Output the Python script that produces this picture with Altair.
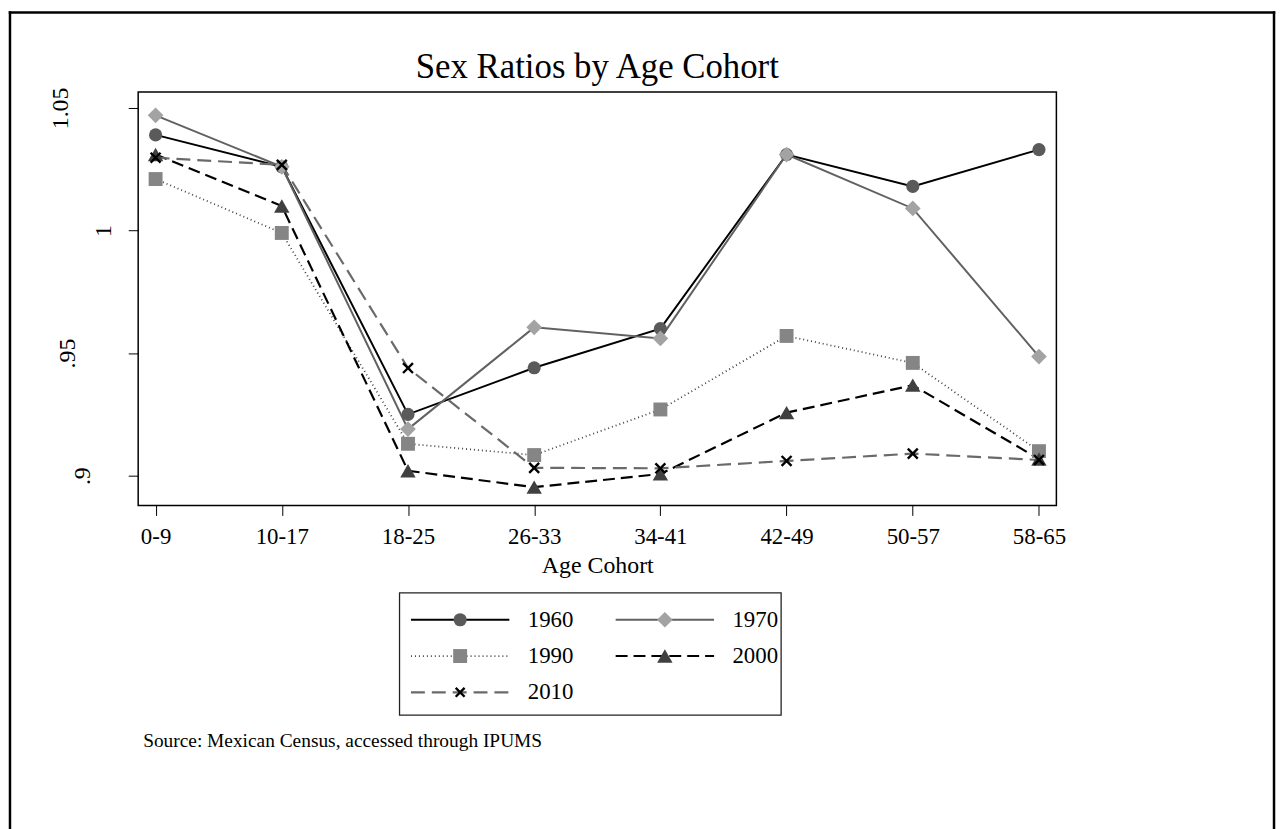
import altair as alt
import pandas as pd

# ---------------- data ----------------
cohorts = ["0-9", "10-17", "18-25", "26-33", "34-41", "42-49", "50-57", "58-65"]
years = ["1960", "1970", "1990", "2000", "2010"]
r1960 = [1.039, 1.026, 0.925, 0.944, 0.960, 1.031, 1.018, 1.033]
r1970 = [1.047, 1.026, 0.919, 0.9605, 0.956, 1.031, 1.009, 0.9486]
r1990 = [1.021, 0.999, 0.913, 0.9084, 0.927, 0.957, 0.946, 0.910]
r2000 = [1.031, 1.010, 0.902, 0.8953, 0.9007, 0.9257, 0.9369, 0.9068]
r2010 = [1.0297, 1.0268, 0.9439, 0.9032, 0.9030, 0.9060, 0.9090, 0.9064]
series = [r1960, r1970, r1990, r2000, r2010]

y_ticks = [0.9, 0.95, 1.0, 1.05]
y_tick_labels = [".9", ".95", "1", "1.05"]
legend_cols = [0, 1, 0, 1, 0]
legend_rows = [0, 0, 1, 1, 2]

title_text = "Sex Ratios by Age Cohort"
x_title = "Age Cohort"
source_text = "Source: Mexican Census, accessed through IPUMS"

rows = []
for yr, vals in zip(years, series):
    for c, v in zip(cohorts, vals):
        rows.append({"cohort": c, "year": yr, "ratio": v})
df = pd.DataFrame(rows)
leg_df = pd.DataFrame({"year": years, "col": legend_cols, "row": legend_rows})

# ---------------- styles ----------------
FONT = "Liberation Serif"
X_PATH = "M-1,-1L1,1M-1,1L1,-1"
styles = {
    "1960": dict(line="#000000", width=2.0, dash=None, shape="circle", fill="#5a5a5a", size=175),
    "1970": dict(line="#616161", width=2.0, dash=None, shape="diamond", fill="#a3a3a3", size=250),
    "1990": dict(line="#444444", width=1.8, dash=[1, 3], shape="square", fill="#858585", size=196),
    "2000": dict(line="#000000", width=2.2, dash=[12, 6], shape="triangle-up", fill="#404040", size=240),
    "2010": dict(line="#6a6a6a", width=2.2, dash=[14, 7], shape=X_PATH, fill=None, size=100),
}

# ---------------- main plot ----------------
label_expr = ""
for v, l in zip(y_ticks, y_tick_labels):
    label_expr += f"abs(datum.value - {v}) < 1e-6 ? '{l}' : "
label_expr += "''"

pad_values = {0.9: 39, 0.95: 54, 1.0: 18, 1.05: 61}
pad_cond = [{"test": f"abs(datum.value - {v}) < 1e-6", "value": p} for v, p in pad_values.items()]

x_enc = alt.X(
    "cohort:N", sort=cohorts,
    scale=alt.Scale(type="point", padding=0.138),
    axis=alt.Axis(title=x_title, labelAngle=0, labelFont=FONT, labelFontSize=23,
                  labelColor="black", labelPadding=10, tickSize=10, tickColor="black",
                  domain=False, grid=False, titleFont=FONT, titleFontSize=24,
                  titleFontWeight="normal", titleColor="black", titlePadding=5),
)
y_enc = alt.Y(
    "ratio:Q",
    scale=alt.Scale(domain=[0.88784, 1.05647], nice=False, zero=False),
    axis=alt.Axis(values=y_ticks, labelExpr=label_expr, labelAngle=-90,
                  labelAlign="center", labelBaseline="alphabetic",
                  labelFont=FONT, labelFontSize=24, labelColor="black",
                  labelPadding={"condition": pad_cond, "value": 40},
                  tickSize=10, tickColor="black", domain=False, grid=False, title=None),
)

base = alt.Chart(df)
line_layers = []
point_layers = []
for yr in years:
    s = styles[yr]
    lkw = dict(color=s["line"], strokeWidth=s["width"])
    if s["dash"]:
        lkw["strokeDash"] = s["dash"]
    line_layers.append(
        base.transform_filter(alt.datum.year == yr).mark_line(**lkw).encode(x=x_enc, y=y_enc)
    )
    if s["fill"]:
        pkw = dict(filled=True, fill=s["fill"], opacity=1, shape=s["shape"], size=s["size"], strokeWidth=0)
    else:
        pkw = dict(filled=False, stroke="black", opacity=1, shape=s["shape"], size=s["size"], strokeWidth=2.4)
    point_layers.append(
        base.transform_filter(alt.datum.year == yr).mark_point(**pkw).encode(x=x_enc, y=y_enc)
    )
main = alt.layer(*line_layers, *point_layers)

# ---------------- legend ----------------
lx = alt.X("col:Q", scale=alt.Scale(domain=[0, 1], range=[324, 530]), axis=None)
ly = alt.Y("row:Q", scale=alt.Scale(domain=[0, 2], range=[531, 604]), axis=None)
lbase = alt.Chart(leg_df)
leg_layers = []
for yr in years:
    s = styles[yr]
    lkw = dict(filled=False, shape="M-1,0H1", size=99 * 99, stroke=s["line"],
               strokeWidth=s["width"], opacity=1)
    if s["dash"]:
        lkw["strokeDash"] = s["dash"]
    leg_layers.append(lbase.transform_filter(alt.datum.year == yr).mark_point(**lkw).encode(x=lx, y=ly))
for yr in years:
    s = styles[yr]
    if s["fill"]:
        pkw = dict(filled=True, fill=s["fill"], opacity=1, shape=s["shape"], size=s["size"], strokeWidth=0)
    else:
        pkw = dict(filled=False, stroke="black", opacity=1, shape=s["shape"], size=s["size"] * 0.8, strokeWidth=2.4)
    leg_layers.append(lbase.transform_filter(alt.datum.year == yr).mark_point(**pkw).encode(x=lx, y=ly))
leg_layers.append(
    lbase.mark_text(align="left", baseline="middle", dx=68, font=FONT, fontSize=23, color="black")
    .encode(x=lx, y=ly, text="year:N")
)
legend = alt.layer(*leg_layers)

# ---------------- decorations ----------------
one = alt.Data(values=[{"t": title_text, "s": source_text}])
legend_box = alt.Chart(one).mark_rect(fillOpacity=0, stroke="#222222", strokeWidth=1.3).encode(
    x=alt.value(263), x2=alt.value(647), y=alt.value(504), y2=alt.value(627))
title_mark = alt.Chart(one).mark_text(align="center", baseline="alphabetic", font=FONT,
                                      fontSize=35, color="black").encode(
    x=alt.value(462), y=alt.value(-14), text="t:N")
source_mark = alt.Chart(one).mark_text(align="left", baseline="alphabetic", font=FONT,
                                       fontSize=19.5, color="black").encode(
    x=alt.value(5), y=alt.value(659), text="s:N")
frame_top = alt.Chart(one).mark_rule(color="black", strokeWidth=2.5, strokeCap="square").encode(
    x=alt.value(-129), x2=alt.value(1143), y=alt.value(-80))
frame_left = alt.Chart(one).mark_rule(color="black", strokeWidth=2.5, strokeCap="square").encode(
    x=alt.value(-129), y=alt.value(-80), y2=alt.value(745))
frame_right = alt.Chart(one).mark_rule(color="black", strokeWidth=2.5, strokeCap="square").encode(
    x=alt.value(1143), y=alt.value(-80), y2=alt.value(745))
decor = alt.layer(legend_box, title_mark, source_mark, frame_top, frame_left, frame_right)

chart = (
    alt.layer(main, legend, decor)
    .resolve_scale(x="independent", y="independent")
    .properties(width=924, height=416, padding=0, background="white")
    .configure_view(stroke="black", strokeWidth=1.5)
)

chart.save("out.html", embed_options={"renderer": "svg", "actions": False})
